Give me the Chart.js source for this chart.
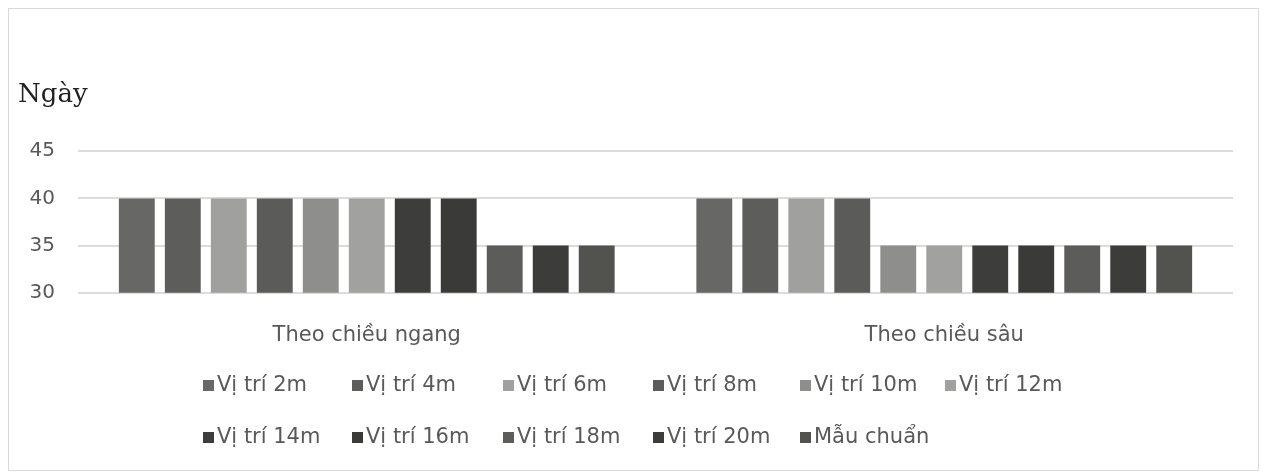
<!DOCTYPE html>
<html>
<head>
<meta charset="utf-8">
<script src="https://cdn.jsdelivr.net/npm/chart.js@4/dist/chart.umd.min.js"></script>
<style>
  html, body { margin: 0; padding: 0; background: #fff; }
  #wrap { position: relative; width: 1264px; height: 474px; }
</style>
</head>
<body>
<div id="wrap"><canvas id="chart" width="1264" height="474"></canvas></div>
<script>
// dữ liệu
const categories = ['Theo chiều ngang', 'Theo chiều sâu']
const seriesNames = ['Vị trí 2m', 'Vị trí 4m', 'Vị trí 6m', 'Vị trí 8m', 'Vị trí 10m', 'Vị trí 12m',
                     'Vị trí 14m', 'Vị trí 16m', 'Vị trí 18m', 'Vị trí 20m', 'Mẫu chuẩn']
const ngang = [40, 40, 40, 40, 40, 40, 40, 40, 35, 35, 35]
const sau   = [40, 40, 40, 40, 35, 35, 35, 35, 35, 35, 35]
const yTicks = [30, 35, 40, 45]
const COLORS = ['#676865', '#5d5e5b', '#a0a19e', '#5b5c59', '#8e8f8c', '#a1a29f',
                '#3d3e3b', '#3a3b38', '#5c5d5a', '#3c3d3a', '#52534f']

const TEXT = '#595959'
const SANS = "'DejaVu Sans', 'Open Sans', sans-serif"

// khung viền ngoài
const frame = {
  id: 'frame',
  beforeDraw(chart) {
    const { ctx } = chart
    ctx.save()
    ctx.fillStyle = '#fff'
    ctx.fillRect(0, 0, chart.width, chart.height)
    ctx.strokeStyle = '#d9d9d9'
    ctx.lineWidth = 1
    ctx.strokeRect(8.5, 8.5, 1250, 462)
    ctx.restore()
  },
}

// chú thích 2 hàng, xếp theo cột
const legendGrid = {
  id: 'legendGrid',
  afterDraw(chart) {
    const { ctx } = chart
    const cols = [203, 352, 503, 653, 800, 945]
    const rows = [385, 437]
    ctx.save()
    ctx.font = `21px ${SANS}`
    ctx.textBaseline = 'middle'
    chart.data.datasets.forEach((ds, i) => {
      const x = cols[i % 6]
      const y = rows[Math.floor(i / 6)]
      ctx.fillStyle = ds.backgroundColor
      ctx.fillRect(x, y - 5, 11, 11)
      ctx.fillStyle = TEXT
      ctx.fillText(ds.label, x + 14, y + 1)
    })
    ctx.restore()
  },
}

new Chart(document.getElementById('chart'), {
  type: 'bar',
  data: {
    labels: categories,
    datasets: seriesNames.map((name, i) => ({
      label: name,
      data: [ngang[i], sau[i]],
      backgroundColor: COLORS[i],
      borderWidth: 0,
      categoryPercentage: 0.876,
      barPercentage: 0.78,
    })),
  },
  options: {
    responsive: false,
    animation: false,
    layout: { padding: { left: 18, right: 31, top: 12, bottom: 104 } },
    scales: {
      x: {
        grid: { display: false },
        border: { display: false },
        ticks: { color: TEXT, font: { family: SANS, size: 21 }, padding: 22 },
      },
      y: {
        min: 30, max: 45,
        afterBuildTicks(scale) { scale.ticks = yTicks.map(v => ({ value: v })) },
        afterFit(scale) { scale.width = 60 },
        grid: { color: '#dcdcdc', lineWidth: 2, drawTicks: false },
        border: { display: false },
        ticks: { color: TEXT, font: { family: SANS, size: 20 }, padding: 23 },
      },
    },
    plugins: {
      legend: { display: false },
      tooltip: { enabled: false },
      title: {
        display: true,
        text: 'Ngày',
        align: 'start',
        color: '#222',
        font: { family: "'DejaVu Serif', 'Liberation Serif', serif", size: 26, weight: 'normal' },
        padding: { top: 68, bottom: 40 },
      },
    },
  },
  plugins: [frame, legendGrid],
})
</script>
</body>
</html>
